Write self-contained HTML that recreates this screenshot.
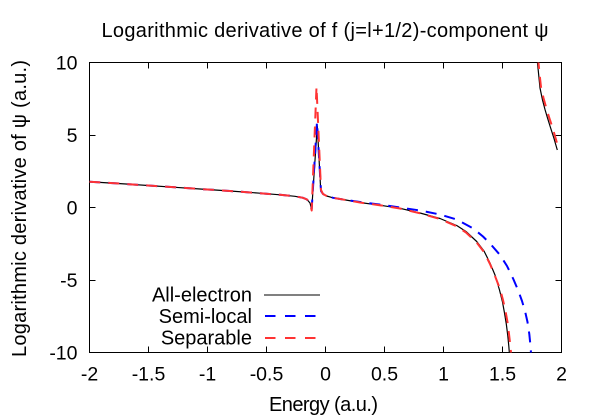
<!DOCTYPE html>
<html>
<head>
<meta charset="utf-8">
<style>
  html, body { margin: 0; padding: 0; background: #fff; }
  svg { display: block; }
  text { font-family: "Liberation Sans", "DejaVu Sans", sans-serif; fill: #000; }
</style>
</head>
<body>
<svg width="600" height="420" viewBox="0 0 600 420" xmlns="http://www.w3.org/2000/svg">
  <rect x="0" y="0" width="600" height="420" fill="#fff"/>
  <defs>
    <clipPath id="pa"><rect x="89.5" y="62.5" width="472" height="290"/></clipPath>
  </defs>

  <!-- Title -->
  <text x="325" y="37" font-size="20" text-anchor="middle" textLength="447" lengthAdjust="spacing">Logarithmic derivative of f (j=l+1/2)-component ψ</text>

  <!-- Frame -->
  <rect x="89.5" y="62.5" width="472" height="290" fill="none" stroke="#000" stroke-width="1"/>

  <!-- Ticks -->
  <g stroke="#000" stroke-width="1">
    <path d="M148.5 352.5v-6M207.5 352.5v-6M266.5 352.5v-6M325.5 352.5v-6M384.5 352.5v-6M443.5 352.5v-6M502.5 352.5v-6"/>
    <path d="M148.5 62.5v6M207.5 62.5v6M266.5 62.5v6M325.5 62.5v6M384.5 62.5v6M443.5 62.5v6M502.5 62.5v6"/>
    <path d="M89.5 135.5h6M89.5 207.5h6M89.5 280.5h6"/>
    <path d="M561.5 135.5h-6M561.5 207.5h-6M561.5 280.5h-6"/>
  </g>

  <!-- Y tick labels -->
  <g font-size="19.5" text-anchor="end">
    <text x="77.5" y="69.5">10</text>
    <text x="77.5" y="142">5</text>
    <text x="77.5" y="214.5">0</text>
    <text x="77.5" y="287">-5</text>
    <text x="77.5" y="359.5">-10</text>
  </g>

  <!-- X tick labels -->
  <g font-size="19.5" text-anchor="middle">
    <text x="89.5" y="380.5">-2</text>
    <text x="148.5" y="380.5">-1.5</text>
    <text x="207.5" y="380.5">-1</text>
    <text x="266.5" y="380.5">-0.5</text>
    <text x="325.5" y="380.5">0</text>
    <text x="384.5" y="380.5">0.5</text>
    <text x="443.5" y="380.5">1</text>
    <text x="502.5" y="380.5">1.5</text>
    <text x="561.5" y="380.5">2</text>
  </g>

  <!-- Axis labels -->
  <text x="323.5" y="411" font-size="20" text-anchor="middle" textLength="109" lengthAdjust="spacing">Energy (a.u.)</text>
  <text transform="translate(26,208.5) rotate(-90)" x="0" y="0" font-size="20" text-anchor="middle" textLength="297" lengthAdjust="spacing">Logarithmic derivative of ψ (a.u.)</text>

  <!-- Curves -->
  <g clip-path="url(#pa)" fill="none" stroke-linejoin="round">
    <!-- All-electron -->
    <polyline stroke="#000" stroke-width="1.2" points="89.3,181.7 120,183.6 148,185.5 175,187.3 200,189 230,191 260,193.2 280,194.8 295,196.3 303,197.8 307,199.5 310,203 311.7,209.5 317.3,126 320.7,190 323,194 326.7,196 333,197.8 340,199 360,202.5 383,205.7 400,208.3 420,213 440,218.5 456.7,225.5 466,231.5 476.7,241.5 484,251 490,263 495,275 499.5,290 502.5,302 504.5,313 506.3,324 507.7,335 508.8,346 509.6,356"/>
    <polyline stroke="#000" stroke-width="1.2" points="537,58 538,68 539,78 540,88 542.5,100 545,109.5 547.5,118 550,126 554,138.5 557.3,150"/>

    <!-- Semi-local -->
    <polyline stroke="#0000ff" stroke-width="2" stroke-dasharray="11 8" points="89.3,181.7 120,183.6 148,185.5 175,187.3 200,189 230,191 260,193.2 280,194.8 295,196.3 303,197.8 307,199.5 310,203 311.7,209 317,122 321,191 323,194 326.7,196 333,197.8 340,199 360,202 383,205 400,207.5 420,210.5 440,214.5 456.7,219.5 473.3,228.5 483,236.5 490,243.5 500,255 507,266 513.3,279 518,290 522,301 525,311 527.5,322 529.3,334 530.5,346 531.2,356"/>

    <!-- Separable -->
    <polyline stroke="#ff3333" stroke-width="2" stroke-dasharray="11 8" points="89.3,181.7 120,183.6 148,185.5 175,187.3 200,189 230,191 260,193.2 280,194.8 295,196.3 303,197.8 307,199.5 310,203.5 311.7,210.5 316.5,86.7 321,190 323,194 326.7,196 333,197.8 340,199 360,202.5 383,205.7 400,208.5 420,213.3 440,219 456.7,226.3 466,232.5 476.7,242.5 484,252 490,264 495,276 500,289 503,300 505.5,311 507.5,322 509,334 510.3,345 511.3,356"/>
    <polyline stroke="#ff3333" stroke-width="2" stroke-dasharray="11 8" points="538,58 539,68 540,78 541,87 543.5,98 546,107 549,117 552,126 555,136 558,146.7"/>
  </g>

  <!-- Legend -->
  <g font-size="20" text-anchor="end">
    <text x="252" y="301.5">All-electron</text>
    <text x="252" y="323">Semi-local</text>
    <text x="252" y="344.5">Separable</text>
  </g>
  <line x1="264" y1="295" x2="320" y2="295" stroke="#000" stroke-width="1"/>
  <line x1="265" y1="316" x2="320" y2="316" stroke="#0000ff" stroke-width="2" stroke-dasharray="10.5 9.5"/>
  <line x1="265" y1="338" x2="320" y2="338" stroke="#ff3333" stroke-width="2" stroke-dasharray="10.5 9.5"/>
</svg>
</body>
</html>
